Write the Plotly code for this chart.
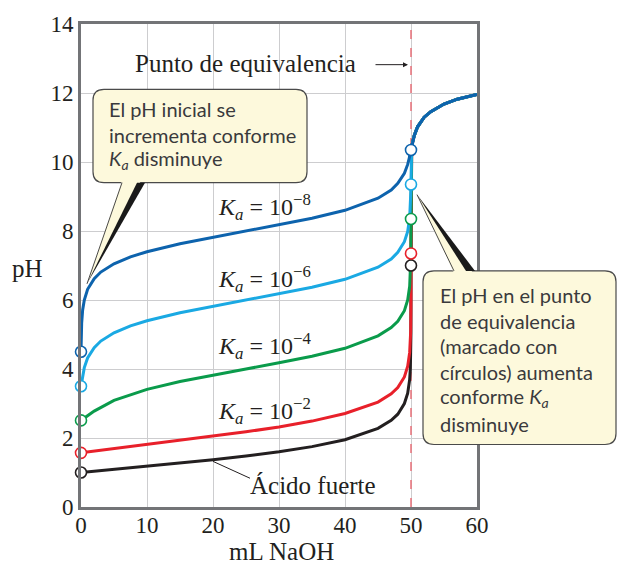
import plotly.graph_objects as go

# ---------------- data ----------------
strong_v = [0, 5, 10, 15, 20, 25, 30, 35, 40, 45, 47, 48, 49, 49.5, 49.8, 49.9, 49.95, 49.99, 50]
strong_ph = [1.00, 1.09, 1.18, 1.27, 1.37, 1.48, 1.60, 1.75, 1.95, 2.28, 2.51, 2.69, 3.00, 3.30, 3.70, 4.00, 4.30, 5.00, 7.00]

ka2_v = [0, 5, 10, 15, 20, 25, 30, 35, 40, 45, 47, 48, 49, 49.5, 49.8, 49.9, 49.95, 49.99, 50]
ka2_ph = [1.57, 1.69, 1.80, 1.92, 2.05, 2.18, 2.32, 2.49, 2.71, 3.04, 3.28, 3.46, 3.77, 4.08, 4.48, 4.78, 5.08, 5.78, 7.35]

ka4_v = [0, 1, 2, 5, 10, 15, 20, 25, 30, 35, 40, 45, 47, 48, 49, 49.5, 49.8, 49.9, 49.97, 49.99, 50]
ka4_ph = [2.51, 2.65, 2.78, 3.09, 3.41, 3.64, 3.83, 4.00, 4.18, 4.37, 4.60, 4.96, 5.20, 5.38, 5.69, 6.00, 6.40, 6.70, 7.22, 7.68, 8.35]

ka6_v = [0, 0.25, 0.5, 1, 2, 3, 5, 7.5, 10, 15, 20, 25, 30, 35, 40, 45, 47, 48, 49, 49.5, 49.8, 49.9, 49.95, 49.98, 50]
ka6_ph = [3.50, 3.82, 4.04, 4.32, 4.62, 4.81, 5.05, 5.25, 5.40, 5.63, 5.82, 6.00, 6.18, 6.37, 6.60, 6.95, 7.19, 7.38, 7.69, 7.99, 8.39, 8.68, 8.93, 9.16, 9.35]

ka8_v = [0, 0.02, 0.05, 0.1, 0.25, 0.5, 1, 2, 3, 5, 7.5, 10, 15, 20, 25, 30, 35, 40, 45, 47, 48, 49, 49.5, 49.8, 49.9, 50]
ka8_ph = [4.50, 4.76, 5.04, 5.33, 5.71, 6.00, 6.31, 6.62, 6.81, 7.05, 7.25, 7.40, 7.63, 7.82, 8.00, 8.18, 8.37, 8.60, 8.95, 9.19, 9.38, 9.67, 9.93, 10.16, 10.25, 10.35]

# after the equivalence point all curves coincide
post_v = [50.1, 50.25, 50.5, 51, 52, 53, 55, 57, 60]
post_ph = [10.45, 10.58, 10.77, 11.02, 11.30, 11.46, 11.68, 11.82, 11.96]

equivalence_ml = 50

series_names = ["Ácido fuerte", "Ka = 1e-2", "Ka = 1e-4", "Ka = 1e-6", "Ka = 1e-8"]
series_v = [strong_v, ka2_v, ka4_v, ka6_v, ka8_v]
series_ph = [strong_ph, ka2_ph, ka4_ph, ka6_ph, ka8_ph]
series_colors = ["#231f20", "#e8202a", "#0a9b4b", "#1aa9e3", "#0d63ad"]

x_ticks = [0, 10, 20, 30, 40, 50, 60]
y_ticks = [0, 2, 4, 6, 8, 10, 12, 14]

SERIF = "Liberation Serif"
SANS = "Lato"

fig = go.Figure()

for name, v, ph, c in zip(series_names, series_v, series_ph, series_colors):
    fig.add_trace(go.Scatter(x=v + post_v, y=ph + post_ph, mode="lines", name=name,
                             line=dict(color=c, width=3), hoverinfo="skip"))

for name, v, ph, c in zip(series_names, series_v, series_ph, series_colors):
    fig.add_trace(go.Scatter(x=[v[0], v[-1]], y=[ph[0], ph[-1]], mode="markers", name=name,
                             marker=dict(size=11, color="white", line=dict(color=c, width=1.6)),
                             hoverinfo="skip", cliponaxis=False))

# ---------------- decoration helpers (pixel -> paper) ----------------
L, R, T, B = 81, 477, 20, 507
W, H = R - L, B - T


def PX(x):
    return (x - L) / W


def PY(y):
    return (B - y) / H


def rounded_rect(x0, y0, x1, y1, r):
    pts = [
        ("M", [(x0 + r, y0)]), ("L", [(x1 - r, y0)]), ("Q", [(x1, y0), (x1, y0 + r)]),
        ("L", [(x1, y1 - r)]), ("Q", [(x1, y1), (x1 - r, y1)]),
        ("L", [(x0 + r, y1)]), ("Q", [(x0, y1), (x0, y1 - r)]),
        ("L", [(x0, y0 + r)]), ("Q", [(x0, y0), (x0 + r, y0)]),
    ]
    s = ""
    for cmd, ps in pts:
        s += cmd + " " + " ".join(f"{PX(px):.5f},{PY(py):.5f}" for px, py in ps) + " "
    return s + "Z"


def poly(points):
    s = "M " + " L ".join(f"{PX(px):.5f},{PY(py):.5f}" for px, py in points)
    return s + " Z"


def seg(points):
    return "M " + " L ".join(f"{PX(px):.5f},{PY(py):.5f}" for px, py in points)


BOX_FILL = "#fdf9dc"
BOX_LINE = "#4a4a4a"

shapes = []
# equivalence dashed line
shapes.append(dict(type="line", xref="x", yref="y", x0=equivalence_ml, x1=equivalence_ml, y0=0, y1=14,
                   line=dict(color="#e9707a", width=1.5, dash="dash"), layer="between"))

# callout 1
shapes.append(dict(type="path", xref="paper", yref="paper", path=rounded_rect(93, 86, 307, 180, 11),
                   fillcolor=BOX_FILL, line=dict(color=BOX_LINE, width=1.2), layer="above"))
shapes.append(dict(type="path", xref="paper", yref="paper", path=poly([(122, 178), (141, 178), (87, 282)]),
                   fillcolor=BOX_FILL, line=dict(width=0), layer="above"))
shapes.append(dict(type="path", xref="paper", yref="paper", path=seg([(122, 180), (87, 282)]),
                   line=dict(color=BOX_LINE, width=1), layer="above"))
shapes.append(dict(type="path", xref="paper", yref="paper", path=poly([(137, 180), (145, 180), (87, 282)]),
                   fillcolor="#1a1a1a", line=dict(width=0), layer="above"))

# callout 2
shapes.append(dict(type="path", xref="paper", yref="paper", path=rounded_rect(423, 269, 616, 444, 11),
                   fillcolor=BOX_FILL, line=dict(color=BOX_LINE, width=1.2), layer="above"))
shapes.append(dict(type="path", xref="paper", yref="paper", path=poly([(454, 271), (473, 271), (417, 192)]),
                   fillcolor=BOX_FILL, line=dict(width=0), layer="above"))
shapes.append(dict(type="path", xref="paper", yref="paper", path=seg([(454, 269), (417, 192)]),
                   line=dict(color=BOX_LINE, width=1), layer="above"))
shapes.append(dict(type="path", xref="paper", yref="paper", path=poly([(466, 269), (475, 269), (417, 192)]),
                   fillcolor="#1a1a1a", line=dict(width=0), layer="above"))

# leader to "Ácido fuerte"
shapes.append(dict(type="line", xref="paper", yref="paper", x0=PX(213), y0=PY(461), x1=PX(250), y1=PY(478),
                   line=dict(color="#231f20", width=1)))

annotations = []


def txt(x, y, text, size, family, xanchor="left", color="#231f20"):
    annotations.append(dict(xref="paper", yref="paper", x=PX(x), y=PY(y), text=text, showarrow=False,
                            xanchor=xanchor, yanchor="middle", font=dict(family=family, size=size, color=color)))


# callout texts
SANS_COL = "#3a3a3c"
for i, line in enumerate(["El pH inicial se", "incrementa conforme", "<i>K<sub>a</sub></i> disminuye"]):
    txt(107, 106 + i * 25.5, line, 20, SANS, color=SANS_COL)
for i, line in enumerate(["El pH en el punto", "de equivalencia", "(marcado con", "círculos) aumenta",
                          "conforme <i>K<sub>a</sub></i>", "disminuye"]):
    txt(438, 293 + i * 26, line, 20, SANS, color=SANS_COL)

# Ka labels
for y, e in [(205, 8), (277, 6), (345, 4), (410, 2)]:
    txt(216, y, f"<i>K<sub>a</sub></i> = 10<sup>−{e}</sup>", 24, SERIF)

txt(313, 485, "Ácido fuerte", 25, SERIF, xanchor="center")
txt(245, 60, "Punto de equivalencia", 25, SERIF, xanchor="center")
annotations.append(dict(xref="paper", yref="paper", x=PX(408), y=PY(61), ax=-34, ay=0,
                        axref="pixel", ayref="pixel", text="", showarrow=True, arrowhead=2, arrowsize=1,
                        arrowwidth=1, arrowcolor="#231f20"))

# axis titles
txt(27, 267, "pH", 25, SERIF, xanchor="center")
txt(281, 552, "mL NaOH", 25, SERIF, xanchor="center")

fig.update_layout(
    width=620, height=564,
    margin=dict(l=L, r=620 - R, t=T, b=564 - B),
    paper_bgcolor="white", plot_bgcolor="white",
    showlegend=False,
    shapes=shapes, annotations=annotations,
    xaxis=dict(range=[0, 60], tickvals=x_ticks, ticktext=[str(t) for t in x_ticks],
               showgrid=True, gridcolor="#cdcdcf", gridwidth=1, zeroline=False,
               showline=True, linecolor="#737477", linewidth=3, mirror=True, ticks="",
               ticklabelstandoff=-5,
               tickfont=dict(family=SERIF, size=23, color="#231f20")),
    yaxis=dict(range=[0, 14], tickvals=y_ticks, ticktext=[str(t) for t in y_ticks],
               showgrid=True, gridcolor="#cdcdcf", gridwidth=1, zeroline=False,
               showline=True, linecolor="#737477", linewidth=3, mirror=True, ticks="",
               tickfont=dict(family=SERIF, size=23, color="#231f20")),
)

fig.write_html("out.html", config={"displayModeBar": False},
               post_script="document.body.style.margin='0px';document.body.style.padding='0px';")
